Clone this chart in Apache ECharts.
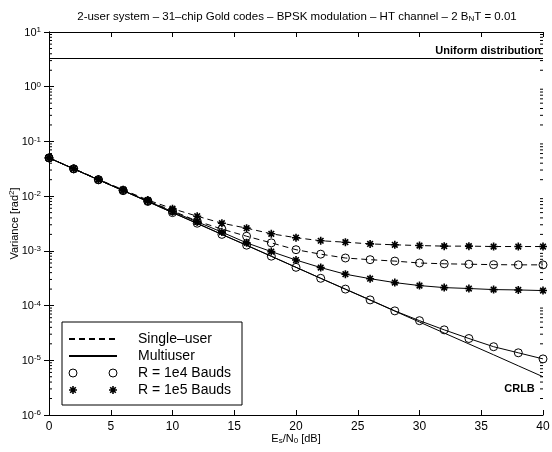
<!DOCTYPE html>
<html>
<head>
<meta charset="utf-8">
<script src="https://cdn.jsdelivr.net/npm/echarts@6/dist/echarts.min.js"></script>
<style>html,body{margin:0;padding:0;background:#fff}#c{width:552px;height:452px}</style>
</head>
<body>
<div id="c"></div>
<script>
// ---- data ----
const snr = [0, 2, 4, 6, 8, 10, 12, 14, 16, 18, 20, 22, 24, 26, 28, 30, 32, 34, 36, 38, 40];
const crlb = [0.05, 0.0315, 0.0199, 0.0126, 0.00793, 0.005, 0.00315, 0.00199, 0.00126, 0.000793, 0.0005,
  0.000315, 0.000199, 0.000126, 7.93e-5, 5e-5, 3.15e-5, 1.99e-5, 1.26e-5, 7.93e-6, 5e-6];
const singleR4 = [0.05, 0.0316, 0.02, 0.0128, 0.0082, 0.0054, 0.0035, 0.0025, 0.00185, 0.0014, 0.00105,
  0.00087, 0.00074, 0.00069, 0.00065, 0.0006, 0.00058, 0.00057, 0.00056, 0.000555, 0.000555];
const singleR5 = [0.05, 0.0318, 0.0203, 0.0131, 0.0085, 0.0059, 0.0043, 0.0032, 0.0026, 0.00205, 0.00174,
  0.00153, 0.00144, 0.00134, 0.00129, 0.00125, 0.00122, 0.00122, 0.0012, 0.0012, 0.0012];
const multiR4 = [0.05, 0.0315, 0.0199, 0.0126, 0.008, 0.005, 0.0032, 0.002, 0.00127, 0.0008, 0.0005,
  0.000315, 0.0002, 0.000127, 8.0e-5, 5.3e-5, 3.6e-5, 2.5e-5, 1.77e-5, 1.37e-5, 1.06e-5];
const multiR5 = [0.05, 0.0316, 0.02, 0.0127, 0.0081, 0.0052, 0.0034, 0.0022, 0.0014, 0.00097, 0.00068,
  0.000495, 0.000374, 0.00031, 0.000263, 0.000232, 0.000213, 0.000205, 0.000196, 0.000193, 0.000188];
const uniformLevel = 3.29;
const yDecades = [-6, -5, -4, -3, -2, -1, 0, 1];
const legendNames = ['Single\u2013user', 'Multiuser', 'R = 1e4 Bauds', 'R = 1e5 Bauds'];

// ---- helpers ----
const FONT = '"Liberation Sans", Arial, Helvetica, sans-serif';
const pair = (xs, ys) => xs.map((x, i) => [x, ys[i]]);
const yMinorTicks = [];
for (let k = 0; k < yDecades.length - 1; k++) {
  for (let m = 2; m <= 9; m++) yMinorTicks.push(m * Math.pow(10, yDecades[k]));
}
function starPath(ox, oy, s) {
  const polys = [
    [[0, 4], [10, 4], [10, 6], [0, 6]],
    [[4, 0], [6, 0], [6, 10], [4, 10]],
    [[0.79, 2.21], [2.21, 0.79], [9.21, 7.79], [7.79, 9.21]],
    [[7.79, 0.79], [9.21, 2.21], [2.21, 9.21], [0.79, 7.79]]
  ];
  return polys.map(p => 'M' + p.map(q => (ox + q[0] * s).toFixed(2) + ',' + (oy + q[1] * s).toFixed(2)).join(' L') + ' Z').join(' ');
}
const STAR = 'path://' + starPath(0, 0, 1);
const STAR_PAIR = 'path://' + starPath(0, 0, 0.8) + ' ' + starPath(40, 0, 0.8);
const RING_PAIR = 'path://M0,4 A4,4 0 1,1 8,4 A4,4 0 1,1 0,4 Z M40,4 A4,4 0 1,1 48,4 A4,4 0 1,1 40,4 Z';

const supRich = {
  b: { fontSize: 11, lineHeight: 12, verticalAlign: 'bottom', color: '#000', fontFamily: FONT },
  s: { fontSize: 8, lineHeight: 12, padding: [0, 0, 4, 0], verticalAlign: 'top', color: '#000', fontFamily: FONT }
};
const titleRich = {
  b: { fontSize: 11.5, lineHeight: 12, verticalAlign: 'top', color: '#000', fontFamily: FONT },
  s: { fontSize: 8, lineHeight: 12, padding: [4, 0, 0, 0], verticalAlign: 'bottom', color: '#000', fontFamily: FONT }
};
const subRich = {
  b: { fontSize: 11, lineHeight: 12, verticalAlign: 'top', color: '#000', fontFamily: FONT },
  s: { fontSize: 8, lineHeight: 12, padding: [4, 0, 0, 0], verticalAlign: 'bottom', color: '#000', fontFamily: FONT }
};

const circleStyle = { color: 'rgba(0,0,0,0)', borderColor: '#000', borderWidth: 1 };
const starStyle = { color: '#000', borderWidth: 0 };

const chart = echarts.init(document.getElementById('c'), null, { renderer: 'canvas' });
chart.setOption({
  animation: false,
  backgroundColor: '#fff',
  textStyle: { fontFamily: FONT, color: '#000' },
  title: {
    text: '{b|2-user system \u2013 31\u2013chip Gold codes \u2013 BPSK modulation \u2013 HT channel \u2013 2 B}{s|N}{b|T = 0.01}',
    left: 292, textAlign: 'center', top: 6,
    textStyle: { rich: titleRich, fontSize: 11.5, fontWeight: 'normal' }
  },
  grid: { left: 49, right: 9, top: 32, bottom: 37, containLabel: false, outerBoundsMode: 'none' },
  legend: {
    orient: 'vertical', left: 62, top: 322,
    backgroundColor: '#fff', borderColor: '#000', borderWidth: 1, borderRadius: 0,
    padding: [10, 11, 8, 6],
    itemWidth: 48, itemHeight: 8, itemGap: 3,
    selectedMode: false,
    textStyle: { fontSize: 14, color: '#000', fontFamily: FONT, padding: [0, 0, 0, 16] },
    data: [
      { name: legendNames[0], itemStyle: { opacity: 0 } },
      { name: legendNames[1], itemStyle: { opacity: 0 } },
      { name: legendNames[2], icon: RING_PAIR, itemStyle: circleStyle },
      { name: legendNames[3], icon: STAR_PAIR, itemStyle: starStyle }
    ]
  },
  xAxis: [
    {
      type: 'value', min: 0, max: 40, interval: 5, position: 'bottom',
      axisLine: { lineStyle: { color: '#000', width: 1 } },
      axisTick: { inside: true, length: 5, lineStyle: { color: '#000' } },
      axisLabel: { fontSize: 12, color: '#000', margin: 6, fontFamily: FONT },
      splitLine: { show: false },
      name: '{b|E}{s|s}{b|/N}{s|0}{b| [dB]}', nameLocation: 'middle', nameGap: 18,
      nameMoveOverlap: false,
      nameTextStyle: { rich: subRich }
    },
    {
      type: 'value', min: 0, max: 40, interval: 5, position: 'top',
      axisLine: { lineStyle: { color: '#000', width: 1 } },
      axisTick: { inside: true, length: 5, lineStyle: { color: '#000' } },
      axisLabel: { show: false }, splitLine: { show: false }
    }
  ],
  yAxis: [
    {
      type: 'log', logBase: 10, min: 1e-6, max: 10, position: 'left',
      axisLine: { show: true, lineStyle: { color: '#000', width: 1 } },
      axisTick: { show: true, inside: true, length: 5, lineStyle: { color: '#000' } },
      axisLabel: {
        margin: 8, color: '#000',
        formatter: v => '{b|10}{s|' + Math.round(Math.log10(v)) + '}',
        rich: supRich
      },
      splitLine: { show: false },
      name: '{b|Variance [rad}{s|2}{b|]}', nameLocation: 'middle', nameGap: 29, nameRotate: 90,
      nameMoveOverlap: false,
      nameTextStyle: { rich: supRich }
    },
    {
      type: 'log', logBase: 10, min: 1e-6, max: 10, position: 'right',
      axisLine: { show: true, lineStyle: { color: '#000', width: 1 } },
      axisTick: { show: true, inside: true, length: 5, lineStyle: { color: '#000' } },
      axisLabel: { show: false }, splitLine: { show: false }
    }
  ],
  series: [
    {
      name: 'Single-user R=1e4', type: 'line', data: pair(snr, singleR4),
      symbol: 'circle', symbolSize: 8, itemStyle: circleStyle,
      lineStyle: { color: '#000', width: 1, type: [6, 4] }, z: 3
    },
    {
      name: 'Multiuser R=1e4', type: 'line', data: pair(snr, multiR4),
      symbol: 'circle', symbolSize: 8, itemStyle: circleStyle,
      lineStyle: { color: '#000', width: 1 }, z: 3
    },
    {
      name: 'Single-user R=1e5', type: 'line', data: pair(snr, singleR5),
      symbol: STAR, symbolSize: 8, itemStyle: starStyle,
      lineStyle: { color: '#000', width: 1, type: [6, 4] }, z: 4
    },
    {
      name: 'Multiuser R=1e5', type: 'line', data: pair(snr, multiR5),
      symbol: STAR, symbolSize: 8, itemStyle: starStyle,
      lineStyle: { color: '#000', width: 1 }, z: 4
    },
    {
      name: 'CRLB', type: 'line', data: pair(snr, crlb), symbol: 'none',
      lineStyle: { color: '#000', width: 1 }, z: 2,
      markPoint: {
        symbol: 'circle', symbolSize: 0, silent: true,
        data: [{ coord: [38.1, 3e-6] }],
        label: { show: true, position: 'inside', formatter: 'CRLB', fontWeight: 'bold', fontSize: 11, color: '#000', fontFamily: FONT }
      },
      markLine: {
        symbol: 'none', silent: true,
        lineStyle: { color: '#000', width: 1, type: 'solid' },
        data: [{ yAxis: uniformLevel }],
        label: {
          show: true, position: 'insideEndTop', formatter: 'Uniform distribution',
          fontWeight: 'bold', fontSize: 11, color: '#000', fontFamily: FONT, distance: [2, 2]
        }
      }
    },
    {
      name: 'minorTicks', type: 'custom', silent: true, z: 1,
      data: yMinorTicks.map(v => [0, v]),
      renderItem: (params, api) => {
        const v = api.value(1);
        const pL = api.coord([0, v]);
        const pR = api.coord([40, v]);
        return {
          type: 'group', children: [
            { type: 'line', shape: { x1: pL[0], y1: pL[1], x2: pL[0] + 3, y2: pL[1] }, style: { stroke: '#000', lineWidth: 1 } },
            { type: 'line', shape: { x1: pR[0], y1: pR[1], x2: pR[0] - 3, y2: pR[1] }, style: { stroke: '#000', lineWidth: 1 } }
          ]
        };
      }
    },
    { name: legendNames[0], type: 'line', data: [], symbol: 'none', itemStyle: { opacity: 0 }, lineStyle: { color: '#000', width: 1, type: [6, 4] } },
    { name: legendNames[1], type: 'line', data: [], symbol: 'none', itemStyle: { opacity: 0 }, lineStyle: { color: '#000', width: 1 } },
    { name: legendNames[2], type: 'line', data: [], symbol: 'circle', itemStyle: circleStyle, lineStyle: { color: '#000', width: 1 } },
    { name: legendNames[3], type: 'line', data: [], symbol: STAR, itemStyle: starStyle, lineStyle: { color: '#000', width: 1 } }
  ]
});
</script>
</body>
</html>
